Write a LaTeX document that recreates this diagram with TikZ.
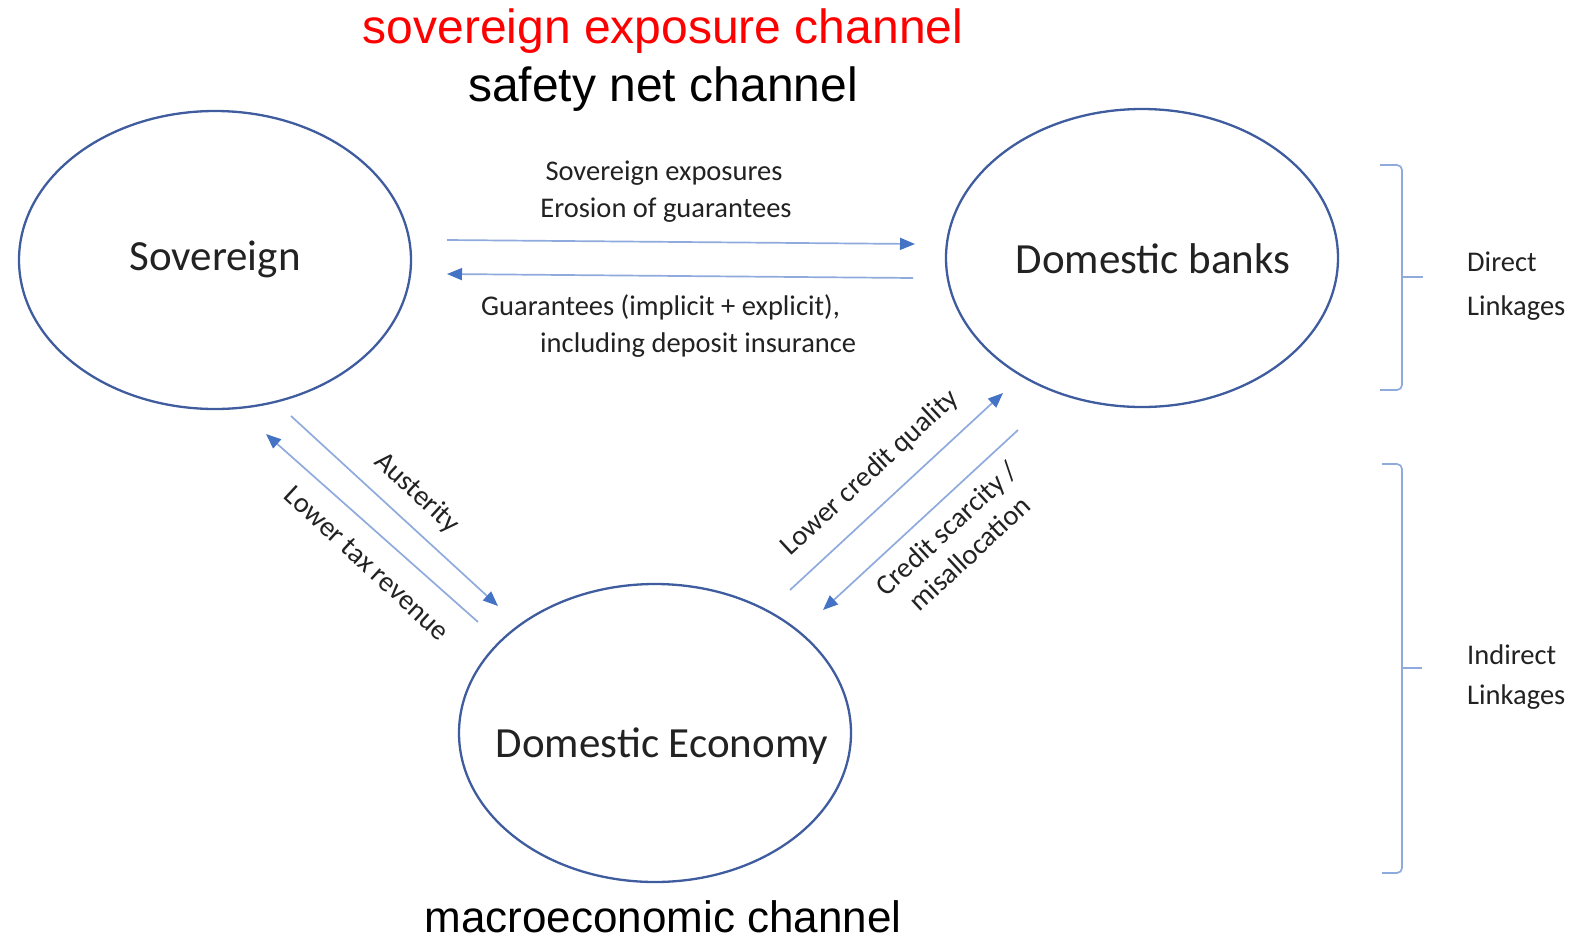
\documentclass[tikz,border=0pt]{standalone}
\usepackage{fontspec}
\setmainfont{Carlito}
\newfontfamily\arialf{Liberation Sans}
\usetikzlibrary{arrows.meta,shapes.geometric}
\definecolor{ellblue}{RGB}{62,92,158}
\definecolor{lineblue}{RGB}{143,170,220}
\definecolor{tipblue}{RGB}{68,114,196}
\definecolor{txt}{RGB}{34,34,34}
\begin{document}
\begin{tikzpicture}[x=1pt,y=-1pt,
  ell/.style={draw=ellblue, line width=2.3pt, ellipse, minimum width=392pt, minimum height=298pt, inner sep=0pt},
  elltext/.style={font=\fontsize{43}{50}\selectfont, text=txt, inner sep=0pt},
  lnk/.style={draw=lineblue, line width=1.7pt, -{Triangle[length=15pt,width=12pt,color=tipblue]}},
  lbl/.style={font=\fontsize{28.5}{34}\selectfont, text=txt, inner sep=0pt},
  ttl/.style={font=\arialf\fontsize{48}{56}\selectfont, inner sep=0pt},
  brk/.style={draw=lineblue, line width=1.7pt, rounded corners=5pt}]
\useasboundingbox (0,0) rectangle (1585,940);

% titles
\node[ttl, text=red] (t1) at (663,31) {sovereign exposure channel};
\node[ttl] (t2) at (663,89) {safety net channel};
\node[ttl, font=\arialf\fontsize{44}{52}\selectfont, anchor=base] (t3) at (663,932) {macroeconomic channel};

% ellipses
\node[ell] (sov) at (215,260) {};
\node[ell] (bank) at (1142,258) {};
\node[ell] (econ) at (655,733) {};
\node[elltext] (sovt) at (215,259) {Sovereign};
\node[elltext] (bankt) at (1153,259) {Domestic banks};
\node[elltext] (econt) at (662,746) {Domestic Economy};

% endpoints
\coordinate (a1s) at (447,240); \coordinate (a1e) at (915,244);
\coordinate (a2s) at (913,278); \coordinate (a2e) at (447,274);
\coordinate (a3s) at (291,416); \coordinate (a3e) at (498,606);
\coordinate (a4s) at (478,622); \coordinate (a4e) at (266,434);
\coordinate (a5s) at (790,590); \coordinate (a5e) at (1003,393);
\coordinate (a6s) at (1018,430); \coordinate (a6e) at (823,610);

\draw[lnk] (a1s) -- (a1e);
\draw[lnk] (a2s) -- (a2e);
\draw[lnk] (a3s) -- (a3e);
\draw[lnk] (a4s) -- (a4e);
\draw[lnk] (a5s) -- (a5e);
\draw[lnk] (a6s) -- (a6e);

% labels
\node[lbl] (l1) at (664,173) {Sovereign exposures};
\node[lbl] (l2) at (666,210) {Erosion of guarantees};
\node[lbl, anchor=west] (l3) at (481,307) {Guarantees (implicit + explicit),};
\node[lbl, anchor=west] (l4) at (540,345) {including deposit insurance};
\node[lbl, rotate=-42.7] (l5) at (417,493) {Austerity};
\node[lbl, rotate=-42.7] (l6) at (367,563) {Lower tax revenue};
\node[lbl, rotate=42.8] (l7) at (870,473) {Lower credit quality};
\node[lbl, rotate=42.8, align=center] (l8) at (958,541) {Credit scarcity /\\misallocation};

% brackets
\draw[brk] (1380,165) -- (1402,165) -- (1402,390) -- (1380,390);
\draw[brk] (1402,277) -- (1423,277);
\draw[brk] (1382,464) -- (1402,464) -- (1402,873) -- (1382,873);
\draw[brk] (1402,668) -- (1422,668);

\node[lbl, anchor=west] (d1) at (1467,262) {Direct};
\node[lbl, anchor=west] (d2) at (1467,308) {Linkages};
\node[lbl, anchor=west] (i1) at (1467,655) {Indirect};
\node[lbl, anchor=west] (i2) at (1467,697) {Linkages};
\end{tikzpicture}
\end{document}
